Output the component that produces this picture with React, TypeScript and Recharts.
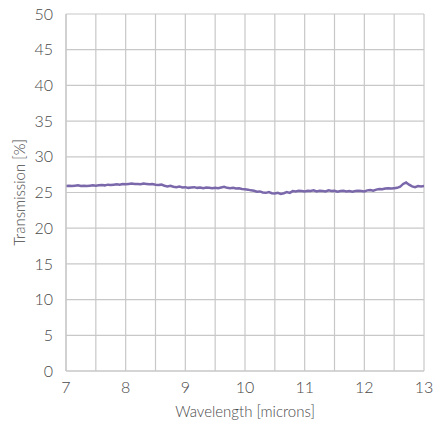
import { LineChart, Line, XAxis, YAxis, CartesianGrid } from "recharts";

// wavelength in microns, 0.05 step
const WAVELENGTHS = [
  7.0, 7.05, 7.1, 7.15, 7.2, 7.25, 7.3, 7.35, 7.4, 7.45,
  7.5, 7.55, 7.6, 7.65, 7.7, 7.75, 7.8, 7.85, 7.9, 7.95,
  8.0, 8.05, 8.1, 8.15, 8.2, 8.25, 8.3, 8.35, 8.4, 8.45,
  8.5, 8.55, 8.6, 8.65, 8.7, 8.75, 8.8, 8.85, 8.9, 8.95,
  9.0, 9.05, 9.1, 9.15, 9.2, 9.25, 9.3, 9.35, 9.4, 9.45,
  9.5, 9.55, 9.6, 9.65, 9.7, 9.75, 9.8, 9.85, 9.9, 9.95,
  10.0, 10.05, 10.1, 10.15, 10.2, 10.25, 10.3, 10.35, 10.4, 10.45,
  10.5, 10.55, 10.6, 10.65, 10.7, 10.75, 10.8, 10.85, 10.9, 10.95,
  11.0, 11.05, 11.1, 11.15, 11.2, 11.25, 11.3, 11.35, 11.4, 11.45,
  11.5, 11.55, 11.6, 11.65, 11.7, 11.75, 11.8, 11.85, 11.9, 11.95,
  12.0, 12.05, 12.1, 12.15, 12.2, 12.25, 12.3, 12.35, 12.4, 12.45,
  12.5, 12.55, 12.6, 12.65, 12.7, 12.75, 12.8, 12.85, 12.9, 12.95,
  13.0,
];

// transmission in %
const TRANSMISSION = [
  25.9, 25.95, 25.9, 25.95, 26.0, 25.9, 25.95, 25.9, 25.95, 26.0,
  25.95, 26.0, 26.05, 26.0, 26.1, 26.05, 26.1, 26.15, 26.1, 26.2,
  26.15, 26.2, 26.25, 26.2, 26.2, 26.15, 26.25, 26.2, 26.15, 26.2,
  26.1, 26.05, 26.1, 25.95, 25.85, 25.95, 25.8, 25.75, 25.85, 25.7,
  25.75, 25.65, 25.7, 25.75, 25.65, 25.7, 25.6, 25.7, 25.65, 25.6,
  25.65, 25.6, 25.7, 25.8, 25.65, 25.6, 25.65, 25.55, 25.6, 25.5,
  25.45, 25.4, 25.3, 25.25, 25.1, 25.15, 25.0, 24.95, 25.05, 24.9,
  24.85, 24.95, 24.8, 24.9, 25.05, 24.95, 25.2, 25.15, 25.25, 25.2,
  25.15, 25.25, 25.2, 25.3, 25.15, 25.25, 25.2, 25.15, 25.3, 25.2,
  25.25, 25.1, 25.2, 25.25, 25.15, 25.2, 25.1, 25.2, 25.25, 25.2,
  25.15, 25.3, 25.35, 25.25, 25.4, 25.5, 25.45, 25.55, 25.6, 25.55,
  25.6, 25.65, 25.8, 26.2, 26.4, 26.1, 25.85, 25.75, 25.9, 25.85,
  25.9,
];

const X_TICKS = [7, 7.5, 8, 8.5, 9, 9.5, 10, 10.5, 11, 11.5, 12, 12.5, 13];
const Y_TICKS = [0, 5, 10, 15, 20, 25, 30, 35, 40, 45, 50];

const data = WAVELENGTHS.map((wl, i) => ({ wl, t: TRANSMISSION[i] }));

const FONT = "Lato, 'Open Sans', sans-serif";
const TEXT = "#4a4a4a";
const GRID = "#c8c8c8";

export default function App() {
  return (
    <div style={{ width: 437, height: 422, background: "#fff", fontFamily: FONT }}>
      <style>{`body{margin:0}`}</style>
      <LineChart
        width={437}
        height={422}
        data={data}
        margin={{ top: 14, right: 13, left: 0, bottom: 0 }}
      >
        <CartesianGrid stroke={GRID} strokeWidth={1.2} />
        <XAxis
          dataKey="wl"
          type="number"
          domain={[7, 13]}
          ticks={X_TICKS}
          interval={0}
          tickFormatter={(v: number) => (Number.isInteger(v) ? String(v) : "")}
          height={51}
          tickLine={false}
          axisLine={{ stroke: GRID, strokeWidth: 1.2 }}
          tick={{ fill: TEXT, fontSize: 16, fontWeight: 300, fontFamily: FONT }}
          tickMargin={5}
          label={{
            value: "Wavelength [microns]",
            position: "insideBottom",
            offset: 5,
            style: { fill: TEXT, fontSize: 15, fontWeight: 300, fontFamily: FONT },
          }}
        />
        <YAxis
          type="number"
          domain={[0, 50]}
          ticks={Y_TICKS}
          interval={0}
          width={66}
          tickLine={false}
          axisLine={{ stroke: GRID, strokeWidth: 1.2 }}
          tick={{ fill: TEXT, fontSize: 16, fontWeight: 300, fontFamily: FONT }}
          tickMargin={7}
          label={{
            value: "Transmission [%]",
            angle: -90,
            position: "insideLeft",
            offset: 20,
            style: {
              textAnchor: "middle",
              fill: TEXT,
              fontSize: 15,
              fontWeight: 300,
              fontFamily: FONT,
            },
          }}
        />
        <Line
          type="linear"
          dataKey="t"
          stroke="#7a68ab"
          strokeWidth={2.5}
          dot={false}
          isAnimationActive={false}
        />
      </LineChart>
    </div>
  );
}
